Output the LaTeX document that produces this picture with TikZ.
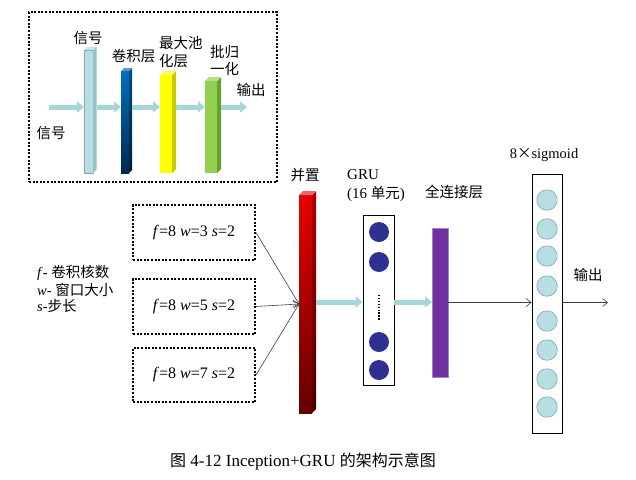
\documentclass[tikz,border=0pt]{standalone}
\usepackage{fontspec}
\setmainfont{Liberation Serif}
\newfontfamily\cjk{Noto Sans CJK SC}
\usetikzlibrary{arrows.meta,calc}
\definecolor{sigblue}{RGB}{183,222,226}
\definecolor{sigedge}{RGB}{130,170,176}
\definecolor{sigside}{RGB}{150,195,200}
\definecolor{blueA}{RGB}{0,112,192}
\definecolor{blueB}{RGB}{0,40,80}
\definecolor{yel}{RGB}{255,255,0}
\definecolor{yelside}{RGB}{200,200,0}
\definecolor{grn}{RGB}{146,208,80}
\definecolor{grnside}{RGB}{105,160,50}
\definecolor{redA}{RGB}{232,0,0}
\definecolor{redB}{RGB}{100,0,0}
\definecolor{purp}{RGB}{112,48,160}
\definecolor{navy}{RGB}{46,49,146}
\definecolor{arrowblue}{RGB}{165,214,219}
\newcommand\barfaces[4]{%
  \path[#3] (#1.north east) -- ++(#2,#2) -- ($(#1.south east)+(#2,#2)$) -- (#1.south east) -- cycle;
  \path[#4] (#1.north west) -- ++(#2,#2) -- ($(#1.north east)+(#2,#2)$) -- (#1.north east) -- cycle;
}
\newcommand\cjksz[1]{{\fontsize{16}{18}\selectfont\cjk #1}}
\tikzset{
  bar/.style={rectangle, inner sep=0pt, outer sep=0pt},
  lbl/.style={font=\fontsize{14.5}{16.5}\selectfont, inner sep=0pt},
  boxtext/.style={font=\fontsize{16}{18}\selectfont},
  dotbox/.style={draw, line width=2pt, dash pattern=on 2pt off 1.6pt, rectangle, inner sep=0pt},
  bigarrow/.style={draw=arrowblue, line width=5pt, -{Triangle[length=7pt,width=11pt]}},
  thinarrow/.style={draw=black!75, line width=0.6pt, -{Straight Barb[length=5pt,width=8pt]}},
  gcirc/.style={circle, fill=navy, minimum size=20pt, inner sep=0pt},
  scirc/.style={circle, fill=sigblue, draw=sigedge, line width=0.6pt, minimum size=20.5pt, inner sep=0pt},
}
\begin{document}
\begin{tikzpicture}[x=1pt,y=1pt]
\useasboundingbox (0,0) rectangle (636,-479);
% ---------- top box ----------
\node[dotbox, minimum width=248pt, minimum height=170pt] (topbox) at (153,-97) {};
\coordinate (row1) at (0,-107);
\coordinate (sigin) at (49,-107);
\coordinate (sigout) at (247,-107);
\node[bar, fill=sigblue, draw=sigedge, line width=0.4pt, minimum width=9pt, minimum height=123pt] (b1) at (88.5,-111.5) {};
\barfaces{b1}{3.5}{fill=sigside}{fill=sigblue!80!white}
\node[bar, top color=blueA, bottom color=blueB, minimum width=8pt, minimum height=102pt] (b2) at (125,-122) {};
\barfaces{b2}{3}{top color=blueA!70!black, bottom color=blueB!70!black}{fill=blueA!70!white}
\node[bar, fill=yel, minimum width=12pt, minimum height=98pt] (b3) at (166,-124) {};
\barfaces{b3}{4}{fill=yelside}{fill=yel!70!white}
\node[bar, fill=grn, minimum width=12pt, minimum height=92pt] (b4) at (211,-127) {};
\barfaces{b4}{4}{fill=grnside}{fill=grn!70!white}
\draw[bigarrow] (sigin) -- (b1.west |- row1);
\draw[bigarrow] ($(b1.east |- row1)+(3.5,0)$) -- (b2.west |- row1);
\draw[bigarrow] ($(b2.east |- row1)+(3,0)$) -- (b3.west |- row1);
\draw[bigarrow] ($(b3.east |- row1)+(4,0)$) -- (b4.west |- row1);
\draw[bigarrow] ($(b4.east |- row1)+(4,0)$) -- (sigout);
\node[lbl] (t1) at (88,-38) {\cjk 信号};
\node[lbl] (t2) at (133.5,-56) {\cjk 卷积层};
\node[lbl, anchor=west, align=left, font=\fontsize{14.5}{18}\selectfont] (t3) at (159,-52) {\cjk 最大池\\\cjk 化层};
\node[lbl, anchor=west, align=left, font=\fontsize{14.5}{17}\selectfont] (t4) at (210,-60.5) {\cjk 批归\\\cjk 一化};
\node[lbl] (t5) at (251,-90) {\cjk 输出};
\node[lbl] (t6) at (51,-133) {\cjk 信号};
% ---------- lower part ----------
\node[dotbox, minimum width=122pt, minimum height=55pt, boxtext] (k1) at (194,-232.5) {\textit{f}=8 \textit{w}=3 \textit{s}=2};
\node[dotbox, minimum width=122pt, minimum height=55pt, boxtext] (k2) at (194,-306.5) {\textit{f}=8 \textit{w}=5 \textit{s}=2};
\node[dotbox, minimum width=122pt, minimum height=54pt, boxtext] (k3) at (194,-375) {\textit{f}=8 \textit{w}=7 \textit{s}=2};
\node[lbl, anchor=west] (leg1) at (37,-273) {\textit{f}- {\cjk 卷积核数}};
\node[lbl, anchor=west] (leg2) at (37,-290) {\textit{w}- {\cjk 窗口大小}};
\node[lbl, anchor=west] (leg3) at (37,-306) {\textit{s}-{\cjk 步长}};
% red concat bar
\node[bar, top color=redA, bottom color=redB, minimum width=13pt, minimum height=218pt] (red) at (305.5,-304) {};
\barfaces{red}{4}{top color=redA!75!black, bottom color=redB!75!black}{fill=redA!60!white}
\node[lbl] (t7) at (305,-175.5) {\cjk 并置};
\draw[thinarrow] (k1.east) -- (red.west);
\draw[thinarrow] (k2.east) -- (red.west);
\draw[thinarrow] (k3.east) -- (red.west);
% GRU
\node[draw=black, line width=0.8pt, minimum width=31pt, minimum height=170pt, inner sep=0pt] (gru) at (378.5,-300) {};
\node[gcirc] (g1) at (379,-232) {};
\node[gcirc] (g2) at (379,-262) {};
\node[gcirc] (g3) at (379,-342) {};
\node[gcirc] (g4) at (379,-370) {};
\coordinate (d1) at (379,-295);
\coordinate (d2) at (379,-320);
\draw[line width=1.3pt, dash pattern=on 1.3pt off 1.6pt] (d1) -- (d2);
\node[lbl, anchor=west, align=left, font=\fontsize{15}{18.5}\selectfont] (t8) at (347,-185.5) {GRU\\(16 {\fontsize{14.5}{16}\selectfont\cjk 单元})};
\coordinate (row2) at (0,-302);
\draw[bigarrow] ($(red.east |- row2)+(4,0)$) -- (gru.west |- row2);
% FC
\node[bar, fill=purp, draw=purp!60!white, line width=0.5pt, minimum width=16pt, minimum height=149pt] (fc) at (440,-302.5) {};
\node[lbl] (t9) at (454,-192) {\cjk 全连接层};
\draw[bigarrow] (gru.east |- row2) -- (fc.west |- row2);
% sigmoid
\node[draw=black, line width=0.8pt, minimum width=30pt, minimum height=259pt, inner sep=0pt] (sig) at (547,-303.5) {};
\foreach \i/\yy in {1/200,2/229,3/256,4/286,5/321,6/350,7/379,8/407}
  \node[scirc] (s\i) at (547,-\yy) {};
\node[lbl] (t10) at (544,-155) {8{\cjk ×}sigmoid};
\draw[thinarrow] (fc.east) -- (fc.east -| sig.west);
\coordinate (out) at (608,-302.5);
\draw[thinarrow] (sig.east |- out) -- (out);
\node[lbl] (t11) at (588,-275) {\cjk 输出};
% caption
\node[inner sep=0pt, font=\fontsize{17}{19}\selectfont] (cap) at (303,-462) {\cjksz{图} 4-12 Inception+GRU \cjksz{的架构示意图}};
\end{tikzpicture}
\end{document}
